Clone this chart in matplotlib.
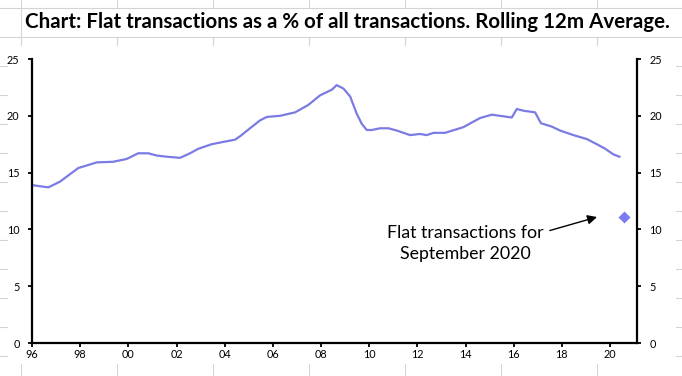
import numpy as np
import matplotlib
matplotlib.use("Agg")
import matplotlib.pyplot as plt
from matplotlib.patches import Rectangle

# rolling 12m average, flat share of all transactions (%)
years = [1996.00, 1996.68, 1997.16, 1997.92, 1998.69, 1999.36, 1999.93, 2000.41,
         2000.83, 2001.18, 2001.59, 2002.15, 2002.56, 2002.91, 2003.46, 2003.94,
         2004.43, 2004.64, 2005.05, 2005.47, 2005.75, 2006.30, 2006.92, 2007.47,
         2007.96, 2008.45, 2008.65, 2008.93, 2009.21, 2009.48, 2009.69, 2009.90,
         2010.11, 2010.45, 2010.80, 2011.15, 2011.70, 2012.11, 2012.39, 2012.67,
         2013.15, 2013.91, 2014.60, 2015.09, 2015.92, 2016.13, 2016.40, 2016.89,
         2017.13, 2017.58, 2017.93, 2018.48, 2019.04, 2019.45, 2019.80, 2020.14,
         2020.39]
share = [13.9, 13.7, 14.2, 15.4, 15.9, 15.95, 16.2, 16.7,
         16.7, 16.5, 16.4, 16.3, 16.7, 17.1, 17.5, 17.7,
         17.9, 18.2, 18.9, 19.6, 19.9, 20.0, 20.3, 20.95,
         21.8, 22.3, 22.7, 22.4, 21.7, 20.2, 19.3, 18.75,
         18.75, 18.9, 18.9, 18.7, 18.3, 18.4, 18.3, 18.5,
         18.5, 19.0, 19.8, 20.1, 19.85, 20.6, 20.45, 20.3,
         19.35, 19.05, 18.7, 18.3, 17.95, 17.5, 17.1, 16.6,
         16.4]
sep2020_x = [2020.58]
sep2020_y = [11.1]

xticks = list(range(1996, 2021, 2))
xlabels = ["%02d" % (y % 100) for y in xticks]
yticks = [0, 5, 10, 15, 20, 25]

W, H = 682, 376
fig = plt.figure(figsize=(W / 100, H / 100), dpi=100)

# spreadsheet background in pixel coords
bg = fig.add_axes([0, 0, 1, 1])
bg.set_xlim(0, W)
bg.set_ylim(H, 0)
bg.axis("off")
grid_c = "#d4d4d4"
rows = [8, 37, 66, 95, 124, 153, 182, 211, 240, 269, 298, 327, 356]
cols = [21, 117, 213, 309, 405, 501, 597]
cx0, cx1, cy0, cy1 = 8, 676, 46, 364
for r in rows:
    if r < cy0:
        bg.plot([0, W], [r, r], color=grid_c, lw=0.8)
    else:
        bg.plot([0, cx0], [r, r], color=grid_c, lw=0.8)
        bg.plot([cx1, W], [r, r], color=grid_c, lw=0.8)
for c in cols:
    if c < 100:
        bg.plot([c, c], [0, cy0], color=grid_c, lw=0.8)
    else:
        bg.plot([c, c], [0, 8], color=grid_c, lw=0.8)
        bg.plot([c, c], [37, cy0], color=grid_c, lw=0.8)
    bg.plot([c, c], [cy1, H], color=grid_c, lw=0.8)
bg.add_patch(Rectangle((cx0, cy0), cx1 - cx0, cy1 - cy0, facecolor="white",
                       edgecolor="none", zorder=3))

title = bg.text(25, 22, "Chart: Flat transactions as a % of all transactions. Rolling 12m Average.",
                fontsize=13, fontweight="bold", va="center", ha="left",
                family=["Lato", "DejaVu Sans"], zorder=4)
for _ in range(2):
    fig.canvas.draw()
    tw = title.get_window_extent().width
    title.set_fontsize(title.get_fontsize() * 647 / tw)

# main chart
ax = fig.add_axes([32 / W, 33 / H, 605 / W, 284 / H])
ax.set_facecolor("none")
line_c = "#7b7be3"
ax.plot(years, share, color=line_c, lw=1.6, solid_joinstyle="round")
ax.plot(sep2020_x, sep2020_y, "D", color="#7b7bef", ms=6, mec="none")
ax.set_xlim(1996, 2021.12)
ax.set_ylim(0, 25)
ax.set_xticks(xticks)
ax.set_xticklabels(xlabels)
ax.set_yticks(yticks)
for s in ["left", "right", "bottom"]:
    ax.spines[s].set_linewidth(1.6)
    ax.spines[s].set_color("black")
ax.spines["top"].set_visible(False)
tick_font = ["Lato", "DejaVu Sans"]
ax.tick_params(axis="y", direction="out", length=3, width=1.3, pad=6,
               labelsize=7.8, left=True, right=True, labelleft=True, labelright=True)
ax.tick_params(axis="x", direction="out", length=3, width=1.3, pad=1, labelsize=7.8)
for lab in ax.get_xticklabels():
    lab.set_family(tick_font)
for t in ax.yaxis.get_major_ticks():
    t.label1.set_family(tick_font)
    t.label2.set_family(tick_font)

ax.text(2013.98, 8.75, "Flat transactions for\nSeptember 2020", ha="center", va="center",
        fontsize=12.8, family=tick_font, linespacing=1.4)
ax.annotate("", xy=(2019.46, 11.09), xytext=(2017.5, 9.9),
            arrowprops=dict(arrowstyle="-|>", color="black", lw=1,
                            mutation_scale=14, shrinkA=0, shrinkB=0))

fig.savefig("out.png", dpi=100, facecolor="white")
